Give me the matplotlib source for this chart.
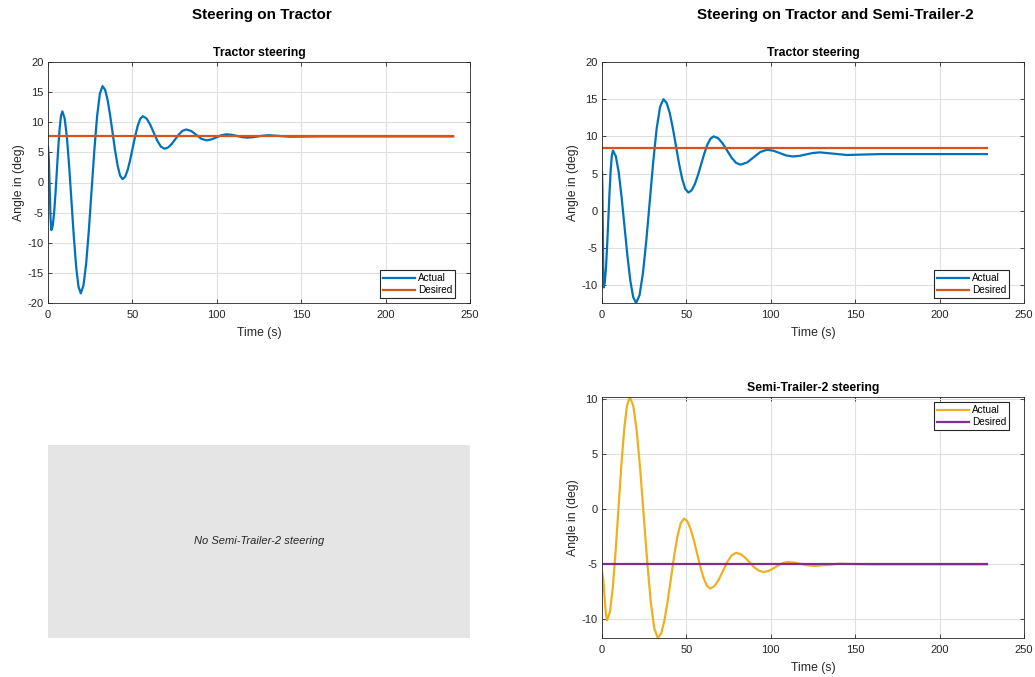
import matplotlib
matplotlib.use("Agg")
import matplotlib.pyplot as plt
import numpy as np

plt.rcParams['font.family'] = ['Liberation Sans', 'DejaVu Sans']
plt.rcParams['axes.unicode_minus'] = False

# tractor-only run: actual vs desired steering angle (deg)
t_trac1 = [0, 0.5, 1.0, 1.5, 2.0,
           2.81, 3.63, 4.44, 5.25, 6.06, 6.88, 7.69, 8.5,
           9.86, 11.23, 12.59, 13.95, 15.31, 16.68, 18.04, 19.4,
           21.01, 22.63, 24.24, 25.85, 27.46, 29.08, 30.69, 32.3,
           33.79, 35.28, 36.76, 38.25, 39.74, 41.23, 42.71, 44.2,
           45.7, 47.2, 48.7, 50.2, 51.7, 53.2, 54.7, 56.2,
           58.33, 60.47, 62.6, 64.73, 66.87, 69.0,
           71.15, 73.3, 75.45, 77.6, 79.75, 81.9,
           84.9, 87.85, 90.8, 93.8, 96.8, 99.8, 102.8, 105.8,
           108.85, 111.9, 114.95, 118, 121.25, 124.5, 127.75, 131,
           137, 143, 160, 200, 240]
a_trac1 = [5.9, 3.9, -1.0, -5.9, -7.9,
           -7.15, -5.02, -1.81, 1.95, 5.71, 8.92, 11.05, 11.8,
           10.65, 7.39, 2.47, -3.3, -9.07, -13.99, -17.25, -18.4,
           -17.09, -13.38, -7.77, -1.2, 5.37, 10.98, 14.69, 16.0,
           15.41, 13.74, 11.23, 8.28, 5.32, 2.81, 1.14, 0.55,
           0.95, 2.08, 3.78, 5.78, 7.77, 9.47, 10.6, 11.0,
           10.64, 9.65, 8.3, 6.95, 5.96, 5.6,
           5.81, 6.4, 7.2, 8.0, 8.59, 8.8,
           8.54, 7.9, 7.26, 7.0, 7.15, 7.5, 7.85, 8.0,
           7.92, 7.73, 7.53, 7.45, 7.51, 7.65, 7.79, 7.85,
           7.72, 7.6, 7.65, 7.65, 7.65]
d_trac1 = 7.75
tend1 = 240

# tractor + semi-trailer-2 run
t_trac2 = [0, 0.25, 0.5, 0.75, 1.0,
           1.69, 2.38, 3.06, 3.75, 4.44, 5.13, 5.81, 6.5,
           8.21, 9.93, 11.64, 13.35, 15.06, 16.78, 18.49, 20.2,
           22.23, 24.25, 26.28, 28.3, 30.33, 32.35, 34.38, 36.4,
           38.25, 40.1, 41.95, 43.8, 45.65, 47.5, 49.35, 51.2,
           53.08, 54.95, 56.83, 58.7, 60.58, 62.45, 64.33, 66.2,
           68.83, 71.47, 74.1, 76.73, 79.37, 82,
           85.95, 89.9, 93.85, 97.8, 101.6, 105.4, 109.2, 113,
           117, 121, 125, 129, 137, 145, 165, 228]
a_trac2 = [5.2, 2.94, -2.55, -8.04, -10.3,
           -9.6, -7.61, -4.61, -1.1, 2.41, 5.41, 7.4, 8.1,
           7.32, 5.11, 1.77, -2.15, -6.07, -9.41, -11.62, -12.4,
           -11.36, -8.4, -3.93, 1.3, 6.53, 11.0, 13.96, 15.0,
           14.52, 13.17, 11.12, 8.73, 6.33, 4.28, 2.93, 2.45,
           2.74, 3.55, 4.78, 6.23, 7.67, 8.9, 9.71, 10.0,
           9.75, 9.05, 8.1, 7.15, 6.45, 6.2,
           6.49, 7.2, 7.91, 8.2, 8.07, 7.75, 7.43, 7.3,
           7.38, 7.58, 7.77, 7.85, 7.68, 7.5, 7.62, 7.62]
d_trac2 = 8.45

t_semi2 = [0, 0.75, 1.5, 2.25, 3.0,
           4.69, 6.38, 8.06, 9.75, 11.44, 13.13, 14.81, 16.5,
           18.58, 20.65, 22.73, 24.8, 26.88, 28.95, 31.03, 33.1,
           35.04, 36.98, 38.91, 40.85, 42.79, 44.73, 46.66, 48.6,
           50.54, 52.48, 54.41, 56.35, 58.29, 60.23, 62.16, 64.1,
           66.65, 69.2, 71.75, 74.3, 76.85, 79.4,
           82.1, 84.8, 87.5, 90.2, 92.9, 95.6,
           98.0, 100.4, 102.8, 105.2, 107.6, 110,
           114, 118, 122, 126, 133.5, 141, 160, 228]
a_semi2 = [-5.7, -6.34, -7.9, -9.46, -10.1,
           -9.33, -7.14, -3.83, 0.05, 3.93, 7.24, 9.43, 10.2,
           9.37, 7.0, 3.43, -0.75, -4.93, -8.5, -10.87, -11.7,
           -11.29, -10.12, -8.35, -6.28, -4.2, -2.43, -1.26, -0.85,
           -1.09, -1.78, -2.81, -4.03, -5.24, -6.27, -6.96, -7.2,
           -6.98, -6.39, -5.58, -4.77, -4.18, -3.96,
           -4.08, -4.4, -4.83, -5.27, -5.58, -5.7,
           -5.64, -5.48, -5.25, -5.03, -4.86, -4.8,
           -4.85, -4.98, -5.1, -5.15, -5.05, -4.95, -5.02, -5.02]
d_semi2 = -5.0
tend2 = 228

W, H = 1035, 677
fig = plt.figure(figsize=(W / 100, H / 100), dpi=100)

def box(l, r, top, bot):
    return [l / W, (H - bot) / H, (r - l) / W, (bot - top) / H]

def style(ax, title, ylim, yticks):
    ax.set_xlim(0, 250)
    ax.set_xticks([0, 50, 100, 150, 200, 250])
    ax.set_ylim(*ylim)
    ax.set_yticks(yticks)
    ax.grid(True, color='#e0e0e0', linewidth=0.8)
    ax.set_axisbelow(True)
    for s in ax.spines.values():
        s.set_color('#262626')
        s.set_linewidth(0.6)
    ax.tick_params(direction='in', length=3, width=0.6, colors='#262626',
                   labelsize=8, top=True, right=True)
    ax.tick_params(axis='x', pad=5)
    ax.tick_params(axis='y', pad=3)
    ax.set_title(title, fontsize=8.8, fontweight='bold', pad=4)
    ax.set_xlabel('Time (s)', fontsize=8.8, color='#262626', labelpad=5)
    ax.set_ylabel('Angle in (deg)', fontsize=8.8, color='#262626', labelpad=2)

def legend(ax, loc, anchor):
    leg = ax.legend(loc=loc, bbox_to_anchor=anchor, borderaxespad=0,
                    fontsize=7.2, fancybox=False, framealpha=1,
                    handlelength=3.2, handletextpad=0.3, borderpad=0.3,
                    labelspacing=0.2)
    leg.get_frame().set_edgecolor('#262626')
    leg.get_frame().set_linewidth(0.8)

blue = '#0072BD'
orange = '#D95319'
yellow = '#EDB120'
purple = '#7E2F8E'

ax1 = fig.add_axes(box(48, 470, 62, 303))
ax1.plot(t_trac1, a_trac1, color=blue, lw=1.6, label='Actual')
ax1.plot([0, tend1], [d_trac1, d_trac1], color=orange, lw=1.6, label='Desired')
style(ax1, 'Tractor steering', (-20, 20), np.arange(-20, 21, 5))
legend(ax1, 'lower right', (1 - 15 / 422, 5 / 241))

ax2 = fig.add_axes(box(602, 1024, 62, 303))
ax2.plot(t_trac2, a_trac2, color=blue, lw=1.6, label='Actual')
ax2.plot([0, tend2], [d_trac2, d_trac2], color=orange, lw=1.6, label='Desired')
style(ax2, 'Tractor steering', (min(a_trac2), 20), np.arange(-10, 21, 5))
legend(ax2, 'lower right', (1 - 15 / 422, 5 / 241))

ax3 = fig.add_axes(box(602, 1024, 397, 638))
ax3.plot(t_semi2, a_semi2, color=yellow, lw=1.6, label='Actual')
ax3.plot([0, tend2], [d_semi2, d_semi2], color=purple, lw=1.6, label='Desired')
style(ax3, 'Semi-Trailer-2 steering', (min(a_semi2), max(a_semi2)), np.arange(-10, 11, 5))
legend(ax3, 'upper right', (1 - 15 / 422, 1 - 5 / 241))

ax4 = fig.add_axes(box(48, 470, 445, 638))
ax4.set_facecolor('#e5e5e5')
for s in ax4.spines.values():
    s.set_visible(False)
ax4.set_xticks([])
ax4.set_yticks([])
ax4.text(0.5, 0.5, 'No Semi-Trailer-2 steering', transform=ax4.transAxes,
         ha='center', va='center', fontsize=8, style='italic', color='#262626')

fig.text(262 / W, 1 - 15 / H, 'Steering on Tractor', ha='center', va='center',
         fontsize=11, fontweight='bold')
fig.text(835 / W, 1 - 15 / H, 'Steering on Tractor and Semi-Trailer-2', ha='center',
         va='center', fontsize=11, fontweight='bold')

fig.savefig('out.png', dpi=100, facecolor='white')
